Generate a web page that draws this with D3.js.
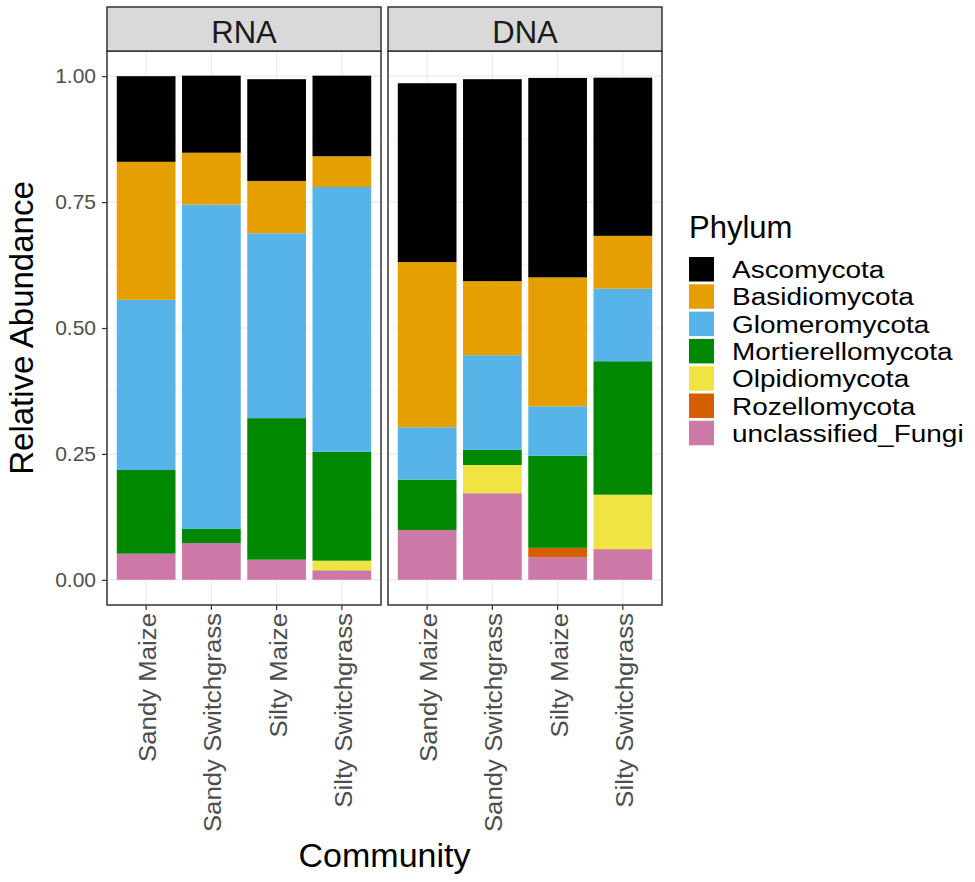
<!DOCTYPE html>
<html>
<head>
<meta charset="utf-8">
<script src="https://cdn.jsdelivr.net/npm/d3@7"></script>
<style>
  body { margin: 0; background: #fff; }
  text { font-family: "Liberation Sans", Arial, sans-serif; }
</style>
</head>
<body>
<svg id="chart" width="975" height="882"></svg>
<script>
const svg = d3.select('#chart')

// data. order in each array: RNA (4 communities), then DNA (4 communities)
const panels = ['RNA', 'DNA']
const communities = ['Sandy Maize', 'Sandy Switchgrass', 'Silty Maize', 'Silty Switchgrass']
const phyla = ['Ascomycota', 'Basidiomycota', 'Glomeromycota', 'Mortierellomycota', 'Olpidiomycota', 'Rozellomycota', 'unclassified_Fungi']
const phylumColors = ['#000000', '#E69F00', '#56B4E9', '#008800', '#F0E442', '#D55E00', '#CC79A7']

const ascomycota        = [0.170, 0.153, 0.202, 0.160, 0.355, 0.401, 0.396, 0.314]
const basidiomycota     = [0.274, 0.103, 0.104, 0.061, 0.328, 0.147, 0.256, 0.105]
const glomeromycota     = [0.338, 0.644, 0.367, 0.526, 0.104, 0.188, 0.098, 0.144]
const mortierellomycota = [0.166, 0.028, 0.281, 0.216, 0.100, 0.030, 0.183, 0.265]
const olpidiomycota     = [0.000, 0.000, 0.000, 0.019, 0.000, 0.056, 0.000, 0.108]
const rozellomycota     = [0.000, 0.000, 0.000, 0.000, 0.000, 0.000, 0.0185, 0.000]
const unclassifiedFungi = [0.052, 0.073, 0.040, 0.019, 0.099, 0.172, 0.045, 0.061]

const yTicks = [0, 0.25, 0.5, 0.75, 1]
const yMinor = [0.125, 0.375, 0.625, 0.875]

const seriesValues = [ascomycota, basidiomycota, glomeromycota, mortierellomycota, olpidiomycota, rozellomycota, unclassifiedFungi]

// layout
const panelTop = 51
const panelBottom = 605
const stripTop = 7
const panelLefts = [107, 388]
const panelWidth = 274
const textColor = '#4d4d4d'
const borderColor = '#333333'
const gridColor = '#ebebeb'

const color = d3.scaleOrdinal().domain(phyla).range(phylumColors)

const yScale = d3.scaleLinear()
  .domain([-0.05, 1.05])
  .range([panelBottom, panelTop])

// the reference font runs a bit wider than Liberation Sans
const widen = (sel, factor) => {
  sel.each(function () {
    const w = this.getComputedTextLength()
    d3.select(this)
      .attr('textLength', w * factor)
      .attr('lengthAdjust', 'spacingAndGlyphs')
  })
}

// rows for the stack
const rows = []
panels.forEach((p, pi) => {
  communities.forEach((c, ci) => {
    const row = { panel: p, community: c }
    phyla.forEach((ph, k) => { row[ph] = seriesValues[k][pi * 4 + ci] })
    rows.push(row)
  })
})

// first phylum on top, like ggplot
const stack = d3.stack().keys(phyla.slice().reverse())

panels.forEach((p, pi) => {
  const left = panelLefts[pi]
  const right = left + panelWidth
  const xScale = d3.scaleBand()
    .domain(communities)
    .range([left, right])
    .paddingInner(0.1)
    .paddingOuter(0.15)

  const g = svg.append('g').attr('class', 'panel')

  // panel background + grid
  g.append('rect')
    .attr('x', left).attr('y', panelTop)
    .attr('width', panelWidth).attr('height', panelBottom - panelTop)
    .attr('fill', '#fff')

  g.selectAll('line.minor')
    .data(yMinor)
    .enter().append('line')
      .attr('x1', left).attr('x2', right)
      .attr('y1', d => yScale(d)).attr('y2', d => yScale(d))
      .attr('stroke', gridColor).attr('stroke-width', 0.6)

  g.selectAll('line.hmajor')
    .data(yTicks)
    .enter().append('line')
      .attr('x1', left).attr('x2', right)
      .attr('y1', d => yScale(d)).attr('y2', d => yScale(d))
      .attr('stroke', gridColor).attr('stroke-width', 1.2)

  g.selectAll('line.vmajor')
    .data(communities)
    .enter().append('line')
      .attr('x1', d => xScale(d) + xScale.bandwidth() / 2)
      .attr('x2', d => xScale(d) + xScale.bandwidth() / 2)
      .attr('y1', panelTop).attr('y2', panelBottom)
      .attr('stroke', gridColor).attr('stroke-width', 1.2)

  // bars
  const panelRows = rows.filter(r => r.panel === p)
  const series = stack(panelRows)

  g.selectAll('g.layer')
    .data(series)
    .enter().append('g')
      .attr('class', 'layer')
      .attr('fill', d => color(d.key))
    .selectAll('rect')
    .data(d => d)
    .enter().append('rect')
      .attr('x', d => xScale(d.data.community))
      .attr('width', xScale.bandwidth())
      .attr('y', d => yScale(d[1]))
      .attr('height', d => Math.max(0, yScale(d[0]) - yScale(d[1])))

  // panel border
  g.append('rect')
    .attr('x', left).attr('y', panelTop)
    .attr('width', panelWidth).attr('height', panelBottom - panelTop)
    .attr('fill', 'none')
    .attr('stroke', borderColor)
    .attr('stroke-width', 1.5)

  // strip
  g.append('rect')
    .attr('x', left).attr('y', stripTop)
    .attr('width', panelWidth).attr('height', panelTop - stripTop)
    .attr('fill', '#d9d9d9')
    .attr('stroke', borderColor)
    .attr('stroke-width', 1.5)

  g.append('text')
    .attr('x', left + panelWidth / 2)
    .attr('y', 43)
    .attr('text-anchor', 'middle')
    .style('font-size', '31px')
    .style('fill', '#1a1a1a')
    .text(p)

  // x axis
  const xAxis = d3.axisBottom(xScale).tickSize(5).tickSizeOuter(0)
  const xg = g.append('g')
    .attr('transform', `translate(0, ${panelBottom})`)
    .call(xAxis)
  xg.select('path.domain').remove()
  xg.selectAll('.tick line').attr('stroke', borderColor).attr('stroke-width', 1.2)
  xg.selectAll('.tick text')
    .attr('transform', 'translate(2, 8) rotate(-90)')
    .attr('x', 0).attr('y', 0)
    .attr('dy', '0.35em')
    .attr('text-anchor', 'end')
    .style('font-size', '23px')
    .style('font-family', '"Liberation Sans", Arial, sans-serif')
    .style('fill', textColor)
    .call(widen, 1.12)
})

// y axis
const yAxis = d3.axisLeft(yScale)
  .tickValues(yTicks)
  .tickFormat(d3.format('.2f'))
  .tickSize(5)
  .tickPadding(6)

const yg = svg.append('g')
  .attr('transform', `translate(${panelLefts[0]}, 0)`)
  .call(yAxis)
yg.select('path.domain').remove()
yg.selectAll('.tick line').attr('stroke', borderColor).attr('stroke-width', 1.2)
yg.selectAll('.tick text')
  .style('font-size', '21px')
  .style('font-family', '"Liberation Sans", Arial, sans-serif')
  .style('fill', textColor)

// axis titles
svg.append('text')
  .attr('transform', `translate(33, ${(panelTop + panelBottom) / 2}) rotate(-90)`)
  .attr('text-anchor', 'middle')
  .style('font-size', '33px')
  .text('Relative Abundance')

svg.append('text')
  .attr('x', (panelLefts[0] + panelLefts[1] + panelWidth) / 2)
  .attr('y', 867)
  .attr('text-anchor', 'middle')
  .style('font-size', '34px')
  .text('Community')

// legend
const legendX = 689
const keySize = 25
const keyStep = 27.3
const legend = svg.append('g').attr('class', 'legend')

legend.append('text')
  .attr('x', legendX).attr('y', 238)
  .style('font-size', '31px')
  .text('Phylum')

const items = legend.selectAll('g.item')
  .data(phyla)
  .enter().append('g')
    .attr('class', 'item')
    .attr('transform', (d, i) => `translate(${legendX}, ${257 + i * keyStep})`)

items.append('rect')
  .attr('width', keySize).attr('height', keySize - 0.5)
  .attr('fill', d => color(d))

items.append('text')
  .attr('x', 43)
  .attr('y', keySize / 2 + 8.5)
  .style('font-size', '23.5px')
  .text(d => d)
  .call(widen, 1.19)
</script>
</body>
</html>
